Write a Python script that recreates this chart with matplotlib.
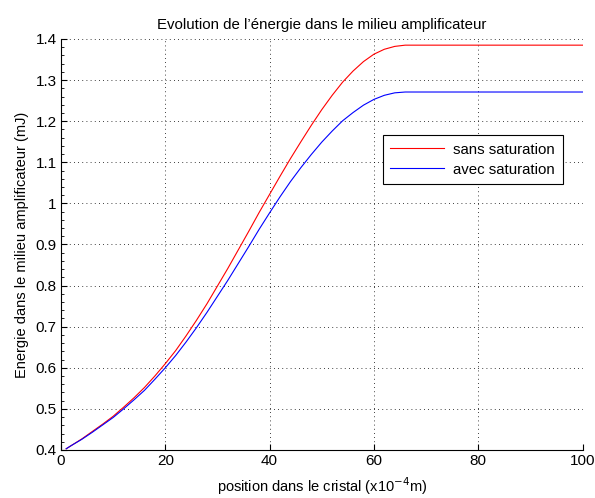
import numpy as np
import matplotlib
matplotlib.use("Agg")
import matplotlib.pyplot as plt
from matplotlib.ticker import AutoMinorLocator, MultipleLocator

plt.rcParams['font.family'] = ['Liberation Sans', 'DejaVu Sans']

# positions along the crystal (x10^-4 m)
position = [1, 2, 4, 6, 8, 10, 12, 14, 16, 18, 20, 22, 24, 26, 28, 30,
            32, 34, 36, 38, 40, 42, 44, 46, 48, 50, 52, 54, 56, 58, 60,
            62, 64, 66, 100]

# energy in the amplifier (mJ)
sans_saturation = [0.403, 0.411, 0.427, 0.445, 0.463, 0.482, 0.504, 0.527,
                   0.552, 0.580, 0.610, 0.642, 0.678, 0.716, 0.756, 0.799,
                   0.842, 0.887, 0.932, 0.978, 1.022, 1.066, 1.109, 1.150,
                   1.190, 1.228, 1.263, 1.295, 1.322, 1.345, 1.363, 1.375,
                   1.382, 1.385, 1.385]
avec_saturation = [0.403, 0.411, 0.426, 0.443, 0.461, 0.479, 0.500, 0.522,
                   0.545, 0.572, 0.600, 0.630, 0.663, 0.698, 0.735, 0.774,
                   0.813, 0.854, 0.895, 0.937, 0.977, 1.016, 1.053, 1.087,
                   1.119, 1.149, 1.176, 1.201, 1.221, 1.239, 1.253, 1.263,
                   1.269, 1.271, 1.271]

fig = plt.figure(figsize=(5.95, 4.98), dpi=100)
ax = fig.add_axes([0.1025, 0.0964, 0.8765, 0.8253])

ax.plot(position, sans_saturation, color='#ff0000', lw=0.8, label='sans saturation')
ax.plot(position, avec_saturation, color='#0000ff', lw=0.8, label='avec saturation')

ax.set_xlim(0, 100)
ax.set_ylim(0.4, 1.4)
ax.xaxis.set_major_locator(MultipleLocator(20))
ax.yaxis.set_major_locator(MultipleLocator(0.1))
ax.yaxis.set_minor_locator(AutoMinorLocator(5))
ax.yaxis.set_major_formatter(matplotlib.ticker.FuncFormatter(lambda v, p: f"{v:g}"))

ax.grid(True, which='major', color='black', linestyle=(0, (1, 4)), lw=0.6)
for side in ('top', 'right'):
    ax.spines[side].set_visible(False)
ax.spines['left'].set_linewidth(0.8)
ax.spines['bottom'].set_linewidth(0.8)
ax.tick_params(which='major', direction='in', length=4, width=0.8, labelsize=11, pad=3)
ax.tick_params(which='minor', direction='in', length=2, width=0.6)

ax.set_title("Evolution de l\u2019énergie dans le milieu amplificateur", fontsize=10.8, pad=7)
ax.set_xlabel("position dans le cristal (x10$^{-4}$m)", fontsize=10.5, labelpad=5)
ax.set_ylabel("Energie dans le milieu amplificateur (mJ)", fontsize=10.5, labelpad=5)

leg = ax.legend(loc='upper left', bbox_to_anchor=(0.617, 0.766), borderaxespad=0,
                fontsize=10.8, frameon=True, fancybox=False, edgecolor='black',
                framealpha=1, handlelength=3.6, borderpad=0.5, labelspacing=0.4,
                handletextpad=0.6)
leg.get_frame().set_linewidth(0.8)

fig.savefig("out.png", dpi=100)
